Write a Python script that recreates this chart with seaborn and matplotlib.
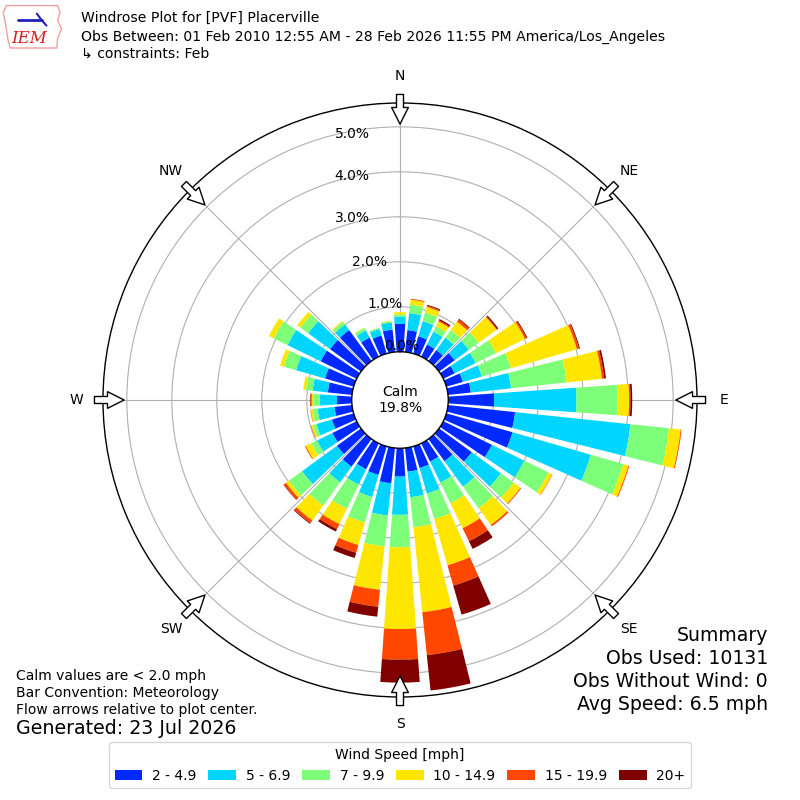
import numpy as np
import matplotlib
matplotlib.use("Agg")
import matplotlib.pyplot as plt
from matplotlib.patches import Polygon
import seaborn as sns

# direction bins (degrees, meteorological) and speed bins
directions = np.arange(0, 360, 10)
speed_labels = ["2 - 4.9", "5 - 6.9", "7 - 9.9", "10 - 14.9", "15 - 19.9", "20+"]

# percent of observations per direction, one list per speed bin (N, 10, 20 ... 350)
pct_2_5 = [0.62, 0.49, 0.40, 0.30, 0.30, 0.43, 0.28, 0.38, 0.51, 1.02, 1.50, 1.53,
           1.20, 0.90, 0.61, 0.45, 0.50, 0.53, 0.63, 0.79, 0.66, 0.64, 0.76, 0.66,
           0.60, 0.50, 0.39, 0.33, 0.54, 0.66, 0.89, 0.85, 0.85, 0.47, 0.42, 0.50]
pct_5_7 = [0.16, 0.38, 0.35, 0.32, 0.34, 0.39, 0.52, 0.44, 0.90, 1.83, 2.58, 1.81,
           0.80, 0.80, 0.70, 0.52, 0.59, 0.57, 0.85, 0.72, 0.51, 0.38, 0.43, 0.96,
           0.38, 0.36, 0.38, 0.38, 0.34, 0.67, 0.82, 0.60, 0.15, 0.18, 0.15, 0.16]
pct_7_10 = [0.05, 0.19, 0.20, 0.13, 0.21, 0.27, 0.50, 0.67, 1.24, 0.91, 0.86, 0.75,
            0.60, 0.35, 0.59, 0.51, 0.59, 0.67, 0.72, 0.69, 0.59, 0.60, 0.64, 0.36,
            0.14, 0.08, 0.11, 0.14, 0.15, 0.28, 0.34, 0.21, 0.08, 0.06, 0.03, 0.03]
pct_10_15 = [0.05, 0.11, 0.13, 0.12, 0.23, 0.49, 0.72, 1.53, 0.79, 0.26, 0.26, 0.12,
             0.09, 0.19, 0.46, 0.62, 1.07, 1.90, 1.82, 0.97, 0.52, 0.38, 0.41, 0.08,
             0.14, 0.04, 0.04, 0.04, 0.06, 0.09, 0.12, 0.09, 0.02, 0.01, 0.00, 0.01]
pct_15_20 = [0.00, 0.02, 0.03, 0.03, 0.06, 0.02, 0.04, 0.05, 0.05, 0.03, 0.02, 0.02,
             0.01, 0.02, 0.04, 0.32, 0.47, 0.96, 0.68, 0.38, 0.18, 0.12, 0.07, 0.06,
             0.02, 0.01, 0.01, 0.03, 0.00, 0.00, 0.00, 0.00, 0.00, 0.00, 0.00, 0.00]
pct_20_up = [0.00, 0.00, 0.02, 0.03, 0.02, 0.03, 0.02, 0.02, 0.04, 0.04, 0.00, 0.00,
             0.00, 0.00, 0.00, 0.19, 0.67, 0.79, 0.51, 0.22, 0.12, 0.06, 0.02, 0.01,
             0.00, 0.00, 0.00, 0.01, 0.00, 0.00, 0.00, 0.00, 0.00, 0.00, 0.00, 0.00]
speed_bins = [pct_2_5, pct_5_7, pct_7_10, pct_10_15, pct_15_20, pct_20_up]

calm_pct = 19.8
rticks = [0, 1, 2, 3, 4, 5]
compass = ["N", "NE", "E", "SE", "S", "SW", "W", "NW"]
summary = ["Summary", "Obs Used: 10131", "Obs Without Wind: 0", "Avg Speed: 6.5 mph"]

sns.set_style("white")
plt.rcParams["font.family"] = ["DejaVu Sans"]
plt.rcParams["text.color"] = "black"
plt.rcParams["xtick.color"] = "black"
plt.rcParams["ytick.color"] = "black"

fig = plt.figure(figsize=(8, 8), dpi=100)
ax = fig.add_axes([0.12875, 0.12875, 0.7425, 0.7425], projection="polar")
ax.set_theta_zero_location("N")
ax.set_theta_direction(-1)

colors = plt.cm.jet(np.linspace(0, 1, 7)[1:])
theta = np.deg2rad(directions)
bottom = np.zeros(len(directions))
for vals, color, label in zip(speed_bins, colors, speed_labels):
    vals = np.array(vals)
    ax.bar(theta, vals, width=np.deg2rad(8), bottom=bottom, color=color,
           linewidth=0, label=label, zorder=2)
    bottom += vals

ax.set_rorigin(-1.073)
ax.set_ylim(0, 5.53)
ax.set_thetagrids(np.arange(0, 360, 45), labels=[""] * 8)
ax.set_rgrids(rticks, labels=[""] * len(rticks))
ax.grid(True, color="#b0b0b0", lw=0.8)
for sp in ax.spines.values():
    sp.set_color("black")
    sp.set_linewidth(1.0)

# radial labels, nudged off the north spoke (offsets in points)
label_nudge = [(1.5, 4), (-11, 2), (-22, 0), (-34.5, -1), (-34.5, -3), (-34.5, -5)]
for t, (dx, dy) in zip(rticks, label_nudge):
    ax.annotate(f"{t:.1f}%", xy=(0, t), xytext=(dx, dy), textcoords="offset points",
                ha="center", va="center", fontsize=10, zorder=10, annotation_clip=False)

# compass labels and inward arrows
for name, ang in zip(compass, range(0, 360, 45)):
    t = np.deg2rad(ang)
    ax.text(t, 6.13, name, ha="center", va="center", fontsize=10, clip_on=False)
    ax.annotate("", xy=(t, 5.06), xytext=(t, 5.72), annotation_clip=False, zorder=5,
                arrowprops=dict(arrowstyle="simple,head_length=1.0,head_width=1.0,tail_width=0.42",
                                fc="white", ec="black", lw=1, shrinkA=0, shrinkB=0,
                                mutation_scale=12))

ax.text(0.5, 0.5, f"Calm\n{calm_pct:.1f}%", transform=ax.transAxes,
        ha="center", va="center", fontsize=10)

# header: rough IEM logo (state outline + vane) and title lines
iowa = [(0.008, 0.993), (0.072, 0.993), (0.075, 0.984), (0.072, 0.974), (0.077, 0.964),
        (0.072, 0.952), (0.071, 0.94), (0.013, 0.94), (0.01, 0.95), (0.007, 0.97), (0.004, 0.984)]
fig.add_artist(Polygon(iowa, closed=True, fill=False, ec="#f0a0a0", lw=1,
                       transform=fig.transFigure))
fig.add_artist(plt.Line2D([0.022, 0.052], [0.975, 0.975], color="#2020c0", lw=2,
                          transform=fig.transFigure))
fig.add_artist(plt.Line2D([0.046, 0.052, 0.058], [0.983, 0.975, 0.968], color="#2020c0", lw=1.5,
                          transform=fig.transFigure))
fig.text(0.037, 0.952, "IEM", color="#d42020", fontsize=12, style="italic",
         family="DejaVu Serif", ha="center", va="center")
fig.text(0.101, 0.9775, "Windrose Plot for [PVF] Placerville", fontsize=10.1, va="center")
fig.text(0.101, 0.954, "Obs Between: 01 Feb 2010 12:55 AM - 28 Feb 2026 11:55 PM America/Los_Angeles",
         fontsize=10.1, va="center")
fig.text(0.101, 0.9325, "\u21b3 constraints: Feb", fontsize=10.1, va="center")

# footer notes
fig.text(0.02, 0.155, "Calm values are < 2.0 mph", fontsize=10, va="center")
fig.text(0.02, 0.134, "Bar Convention: Meteorology", fontsize=10, va="center")
fig.text(0.02, 0.1125, "Flow arrows relative to plot center.", fontsize=10, va="center")
fig.text(0.02, 0.089, "Generated: 23 Jul 2026", fontsize=13.7, va="center")
for i, line in enumerate(summary):
    fig.text(0.96, 0.206 - i * 0.029, line, fontsize=13.6, ha="right", va="center")

handles, labels = ax.get_legend_handles_labels()
fig.legend(handles, labels, loc="lower center", bbox_to_anchor=(0.5, 0.006), ncol=6,
           title="Wind Speed [mph]", fontsize=10, title_fontsize=10,
           columnspacing=0.85, handletextpad=0.7, borderpad=0.4)

fig.savefig("out.png", dpi=100)
